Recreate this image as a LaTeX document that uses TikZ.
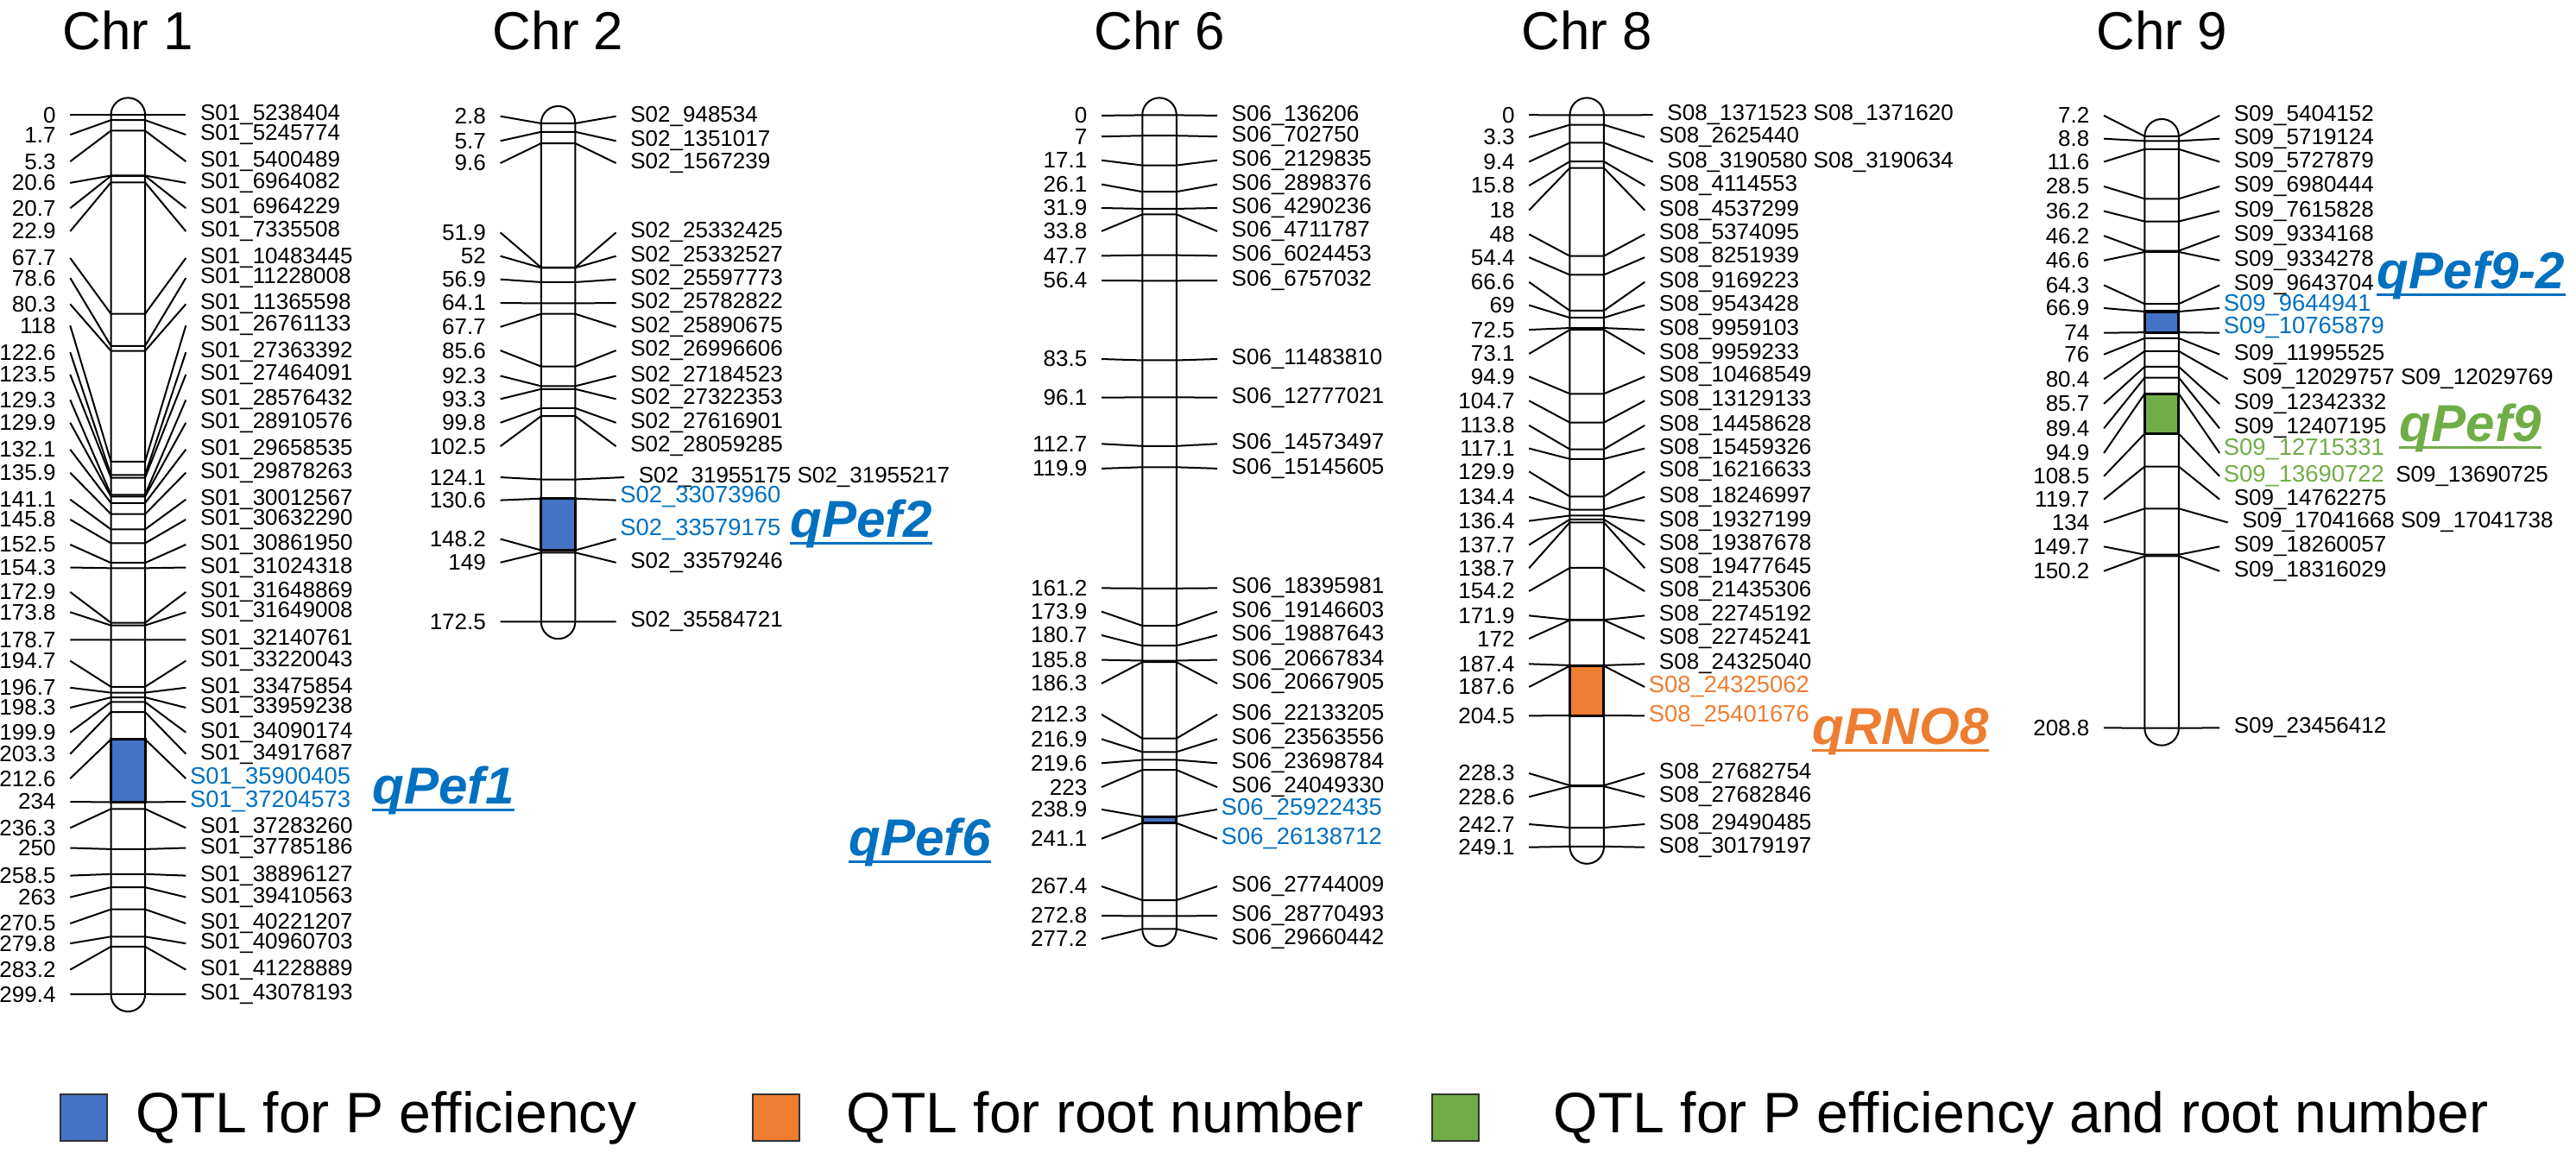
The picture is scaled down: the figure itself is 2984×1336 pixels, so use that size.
\documentclass[tikz,border=0pt]{standalone}
\usepackage{fontspec}
\setmainfont{Liberation Sans}
\usepackage{xcolor}
\usetikzlibrary{positioning}

\definecolor{qblue}{HTML}{0070C0}
\definecolor{qfblue}{HTML}{4472C4}
\definecolor{qorange}{HTML}{ED7D31}
\definecolor{qgreen}{HTML}{70AD47}

% id, centre x, cM, label y, marker text, marker style
\newcommand{\mrk}[6]{%
  \pgfmathsetmacro{\ty}{133.4+3.402*#3}
  \coordinate (#1-l) at (#2-19.75,\ty);
  \coordinate (#1-r) at (#2+19.75,\ty);
  \node[numlab] (#1-n) at (#2-67,#4) {#3};
  \node[#6] (#1-m) at (#2+67,#4) {#5};
  \draw[mline] (#1-n.east) -- (#1-l) -- (#1-r) -- (#1-m.west |- #1-n.east);
}

\begin{document}
\begin{tikzpicture}[
    x=0.01cm, y=-0.01cm,
    chrom/.style={draw, fill=white, line width=0.02cm, rounded corners=0.1975cm, minimum width=0.395cm, inner sep=0, outer sep=0},
    mline/.style={line width=0.02cm},
    numlab/.style={font=\fontsize{7.4}{8.5}\selectfont, anchor=east, inner xsep=0.16cm, inner ysep=0},
    mklab/.style={font=\fontsize{7.4}{8.5}\selectfont, anchor=west, inner xsep=0.16cm, inner ysep=0},
    mkdbl/.style={mklab, xshift=0.095cm},
    mkq/.style={mklab, font=\fontsize{7.8}{9}\selectfont, inner xsep=0.04cm},
    mkblue/.style={mkq, text=qblue},
    mkorange/.style={mkq, text=qorange},
    mkgreen/.style={mkq, text=qgreen},
    qtlbox/.style={draw=black, line width=0.03cm},
    ttl/.style={font=\fontsize{17.6}{20}\selectfont, anchor=base, inner sep=0},
    qname/.style={font=\fontsize{17.1}{20}\bfseries\itshape\selectfont, anchor=base west, inner sep=0},
    uline/.style={line width=0.035cm},
    legsq/.style={draw=black!80, line width=0.02cm, minimum size=0.54cm, inner sep=0},
    legtxt/.style={font=\fontsize{18.8}{22}\selectfont, anchor=west, inner sep=0, text height=0.475cm, text depth=0.106cm},
]
\useasboundingbox (0,0) rectangle (2984,1336);

\node[ttl] (t1) at (148.3,57) {Chr 1};
\node[ttl] (t2) at (646.6,57) {Chr 2};
\node[ttl] (t6) at (1343,57) {Chr 6};
\node[ttl] (t8) at (1838.2,57) {Chr 8};
\node[ttl] (t9) at (2504.1,57) {Chr 9};

\node[chrom, minimum height=10.581cm] (chr1) at (148.3,642.7) {};
\node[chrom, minimum height=6.169cm] (chr2) at (646.6,431.6) {};
\node[chrom, minimum height=9.825cm] (chr6) at (1343,604.9) {};
\node[chrom, minimum height=8.869cm] (chr8) at (1838.2,557.1) {};
\node[chrom, minimum height=7.253cm] (chr9) at (2504.1,500.8) {};

% Chr 1
\foreach \cm/\ly/\tx [count=\i] in {0/133.4/5238404, 1.7/156.1/5245774, 5.3/187.1/5400489, 20.6/211.9/6964082, 20.7/241.2/6964229, 22.9/268/7335508, 67.7/299/10483445, 78.6/322.1/11228008, 80.3/352.4/11365598, 118/377.2/26761133, 122.6/408.2/27363392, 123.5/434/27464091, 129.3/463.3/28576432, 129.9/489.8/28910576, 132.1/520.8/29658535, 135.9/547.7/29878263, 141.1/578.7/30012567, 145.8/602/30632290, 152.5/631/30861950, 154.3/657.5/31024318, 172.9/686/31648869, 173.8/709.3/31649008, 178.7/741.4/32140761, 194.7/765.7/33220043, 196.7/796.8/33475854, 198.3/820/33959238, 199.9/848.6/34090174, 203.3/873.6/34917687, 236.3/959.3/37283260, 250/982.5/37785186, 258.5/1014.6/38896127, 263/1039.6/39410563, 270.5/1070/40221207, 279.8/1093.2/40960703, 283.2/1123.6/41228889, 299.4/1152.1/43078193}
  {\mrk{c1-\i}{148.3}{\cm}{\ly}{S01\_\tx}{mklab}}
\mrk{c1-q1}{148.3}{212.6}{902.1}{S01\_35900405}{mkblue}
\mrk{c1-q2}{148.3}{234}{929}{S01\_37204573}{mkblue}
\draw[qtlbox, fill=qfblue] (c1-q1-l) rectangle (c1-q2-r);

% Chr 2
\foreach \cm/\ly/\tx [count=\i] in {2.8/134.7/948534, 5.7/163.3/1351017, 9.6/189/1567239, 51.9/269.4/25332425, 52/296.7/25332527, 56.9/323.7/25597773, 64.1/351/25782822, 67.7/378.8/25890675, 85.6/406.1/26996606, 92.3/435.5/27184523, 93.3/462.4/27322353, 99.8/489.8/27616901, 102.5/517.1/28059285, 149/651.8/33579246, 172.5/720.4/35584721}
  {\mrk{c2-\i}{646.6}{\cm}{\ly}{S02\_\tx}{mklab}}
\mrk{c2-d1}{646.6}{124.1}{553}{S02\_31955175 S02\_31955217}{mkdbl}
\mrk{c2-q1}{646.6}{130.6}{579.6}{S02\_33073960}{mkblue, yshift=0.04cm}
\mrk{c2-q2}{646.6}{148.2}{624.5}{S02\_33579175}{mkblue, yshift=0.11cm}
\draw[qtlbox, fill=qfblue] (c2-q1-l) rectangle (c2-q2-r);

% Chr 6
\foreach \cm/\ly/\tx [count=\i] in {0/133.9/136206, 7/158.2/702750, 17.1/185.7/2129835, 26.1/213.6/2898376, 31.9/241/4290236, 33.8/267.9/4711787, 47.7/296.4/6024453, 56.4/325/6757032, 83.5/416/11483810, 96.1/460.7/12777021, 112.7/514.3/14573497, 119.9/542.9/15145605, 161.2/681.4/18395981, 173.9/708.6/19146603, 180.7/736/19887643, 185.8/764.6/20667834, 186.3/792/20667905, 212.3/827.9/22133205, 216.9/856.4/23563556, 219.6/884.3/23698784, 223/912.1/24049330, 267.4/1027/27744009, 272.8/1061/28770493, 277.2/1087.9/29660442}
  {\mrk{c6-\i}{1343}{\cm}{\ly}{S06\_\tx}{mklab}}
\mrk{c6-q1}{1343}{238.9}{937.9}{S06\_25922435}{mkblue}
\mrk{c6-q2}{1343}{241.1}{971.8}{S06\_26138712}{mkblue}
\draw[qtlbox, fill=qfblue] (c6-q1-l) rectangle (c6-q2-r);

% Chr 8
\foreach \cm/\ly/\tx [count=\i] in {3.3/158.9/2625440, 15.8/215/4114553, 18/243.6/4537299, 48/271.4/5374095, 54.4/298.2/8251939, 66.6/326.8/9169223, 69/353.6/9543428, 72.5/382.1/9959103, 73.1/410/9959233, 94.9/436.4/10468549, 104.7/464.3/13129133, 113.8/492.9/14458628, 117.1/519.6/15459326, 129.9/546.4/16216633, 134.4/575.7/18246997, 136.4/603.6/19327199, 137.7/631.4/19387678, 138.7/658.3/19477645, 154.2/685/21435306, 171.9/713.3/22745192, 172/740/22745241, 187.4/769.3/24325040, 228.3/896/27682754, 228.6/923.3/27682846, 242.7/955/29490485, 249.1/981.7/30179197}
  {\mrk{c8-\i}{1838.2}{\cm}{\ly}{S08\_\tx}{mklab}}
\mrk{c8-d1}{1838.2}{0}{133.2}{S08\_1371523 S08\_1371620}{mkdbl}
\mrk{c8-d2}{1838.2}{9.4}{187.5}{S08\_3190580 S08\_3190634}{mkdbl}
\mrk{c8-q1}{1838.2}{187.6}{796}{S08\_24325062}{mkorange}
\mrk{c8-q2}{1838.2}{204.5}{829.3}{S08\_25401676}{mkorange}
\draw[qtlbox, fill=qorange] (c8-q1-l) rectangle (c8-q2-r);

% Chr 9
\foreach \cm/\ly/\tx [count=\i] in {7.2/133.9/5404152, 8.8/160.7/5719124, 11.6/187.5/5727879, 28.5/216/6980444, 36.2/244.6/7615828, 46.2/273.2/9334168, 46.6/301.8/9334278, 64.3/330.4/9643704, 76/410.7/11995525, 85.7/467.9/12342332, 89.4/496.4/12407195, 119.7/578.6/14762275, 149.7/633.3/18260057, 150.2/661.7/18316029, 208.8/843.3/23456412}
  {\mrk{c9-\i}{2504.1}{\cm}{\ly}{S09\_\tx}{mklab}}
\mrk{c9-d1}{2504.1}{80.4}{439.3}{S09\_12029757 S09\_12029769}{mkdbl}
\mrk{c9-d2}{2504.1}{134}{605.4}{S09\_17041668 S09\_17041738}{mkdbl}
\mrk{c9-q1}{2504.1}{66.9}{357}{S09\_9644941}{mkblue, yshift=0.03cm}
\mrk{c9-q2}{2504.1}{74}{385.7}{S09\_10765879}{mkblue, yshift=0.06cm}
\mrk{c9-q3}{2504.1}{94.9}{525}{S09\_12715331}{mkgreen, yshift=0.04cm}
\mrk{c9-q4}{2504.1}{108.5}{551.8}{S09\_13690722}{mkgreen}
\node[mklab, inner xsep=0, right=0.08cm of c9-q4-m] (c9-q4-x) {S09\_13690725};
\draw[qtlbox, fill=qfblue] (c9-q1-l) rectangle (c9-q2-r);
\draw[qtlbox, fill=qgreen] (c9-q3-l) rectangle (c9-q4-r);

% QTL names
\node[qname, text=qblue] (qpef1) at (431,931) {qPef1};
\node[qname, text=qblue] (qpef2) at (915,622) {qPef2};
\node[qname, text=qblue] (qpef6) at (983,991) {qPef6};
\node[qname, text=qorange] (qrno8) at (2099,862) {qRNO8};
\node[qname, text=qblue] (qpef92) at (2753,334) {qPef9-2};
\node[qname, text=qgreen] (qpef9) at (2779,511) {qPef9};
\foreach \q/\c in {qpef1/qblue, qpef2/qblue, qpef6/qblue, qrno8/qorange, qpef92/qblue, qpef9/qgreen}
  \draw[uline, draw=\c] ([yshift=-0.075cm]\q.base west) -- ([yshift=-0.075cm]\q.base east);

% legend
\node[legsq, fill=qfblue] (lgb) at (97,1294.5) {};
\node[legtxt, right=0.32cm of lgb] (lgbt) {QTL for P efficiency};
\node[legsq, fill=qorange] (lgo) at (899,1294.5) {};
\node[legtxt, right=0.53cm of lgo] (lgot) {QTL for root number};
\node[legsq, fill=qgreen] (lgg) at (1686,1294.5) {};
\node[legtxt, right=0.85cm of lgg] (lggt) {QTL for P efficiency and root number};
\end{tikzpicture}
\end{document}
